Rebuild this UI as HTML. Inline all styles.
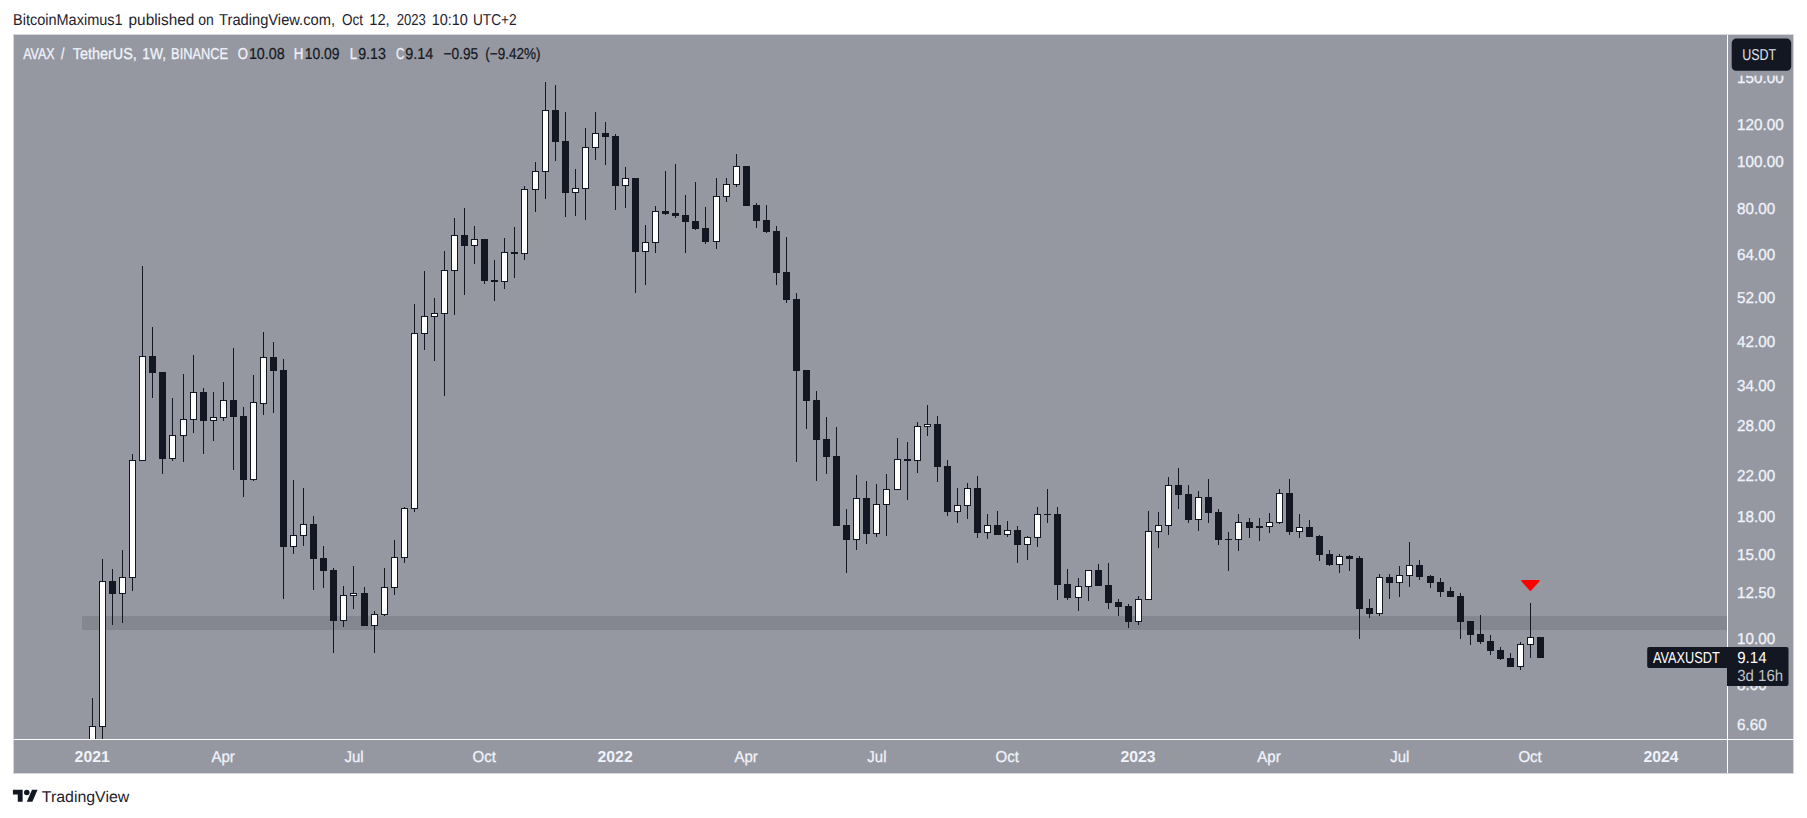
<!DOCTYPE html>
<html lang="en"><head><meta charset="utf-8"><title>AVAX / TetherUS chart</title>
<style>html,body{margin:0;padding:0;background:#fff}body{width:1807px;height:818px;overflow:hidden}svg{display:block}text{font-family:'Liberation Sans',sans-serif;white-space:pre;text-rendering:geometricPrecision}</style></head><body>
<svg width="1807" height="818" viewBox="0 0 1807 818">
<rect x="0" y="0" width="1807" height="818" fill="#fff"/>
<g shape-rendering="crispEdges">
<rect x="13" y="34" width="1781" height="740" fill="#d5d7de"/>
<rect x="14" y="35" width="1779" height="738" fill="#9598a1"/>
<rect x="82" y="616" width="1645" height="14" fill="#84878f"/>
<clipPath id="pane"><rect x="14" y="35" width="1713" height="704"/></clipPath>
<g clip-path="url(#pane)">
<rect x="92" y="698" width="1" height="47" fill="#131722"/>
<rect x="89" y="726" width="7" height="19" fill="#131722"/>
<rect x="90" y="727" width="5" height="17" fill="#fff"/>
<rect x="102" y="559" width="1" height="186" fill="#131722"/>
<rect x="99" y="581" width="7" height="146" fill="#131722"/>
<rect x="100" y="582" width="5" height="144" fill="#fff"/>
<rect x="112" y="569" width="1" height="56" fill="#131722"/>
<rect x="109" y="581" width="7" height="13" fill="#131722"/>
<rect x="122" y="550" width="1" height="73" fill="#131722"/>
<rect x="119" y="577" width="7" height="17" fill="#131722"/>
<rect x="120" y="578" width="5" height="15" fill="#fff"/>
<rect x="132" y="454" width="1" height="137" fill="#131722"/>
<rect x="129" y="460" width="7" height="118" fill="#131722"/>
<rect x="130" y="461" width="5" height="116" fill="#fff"/>
<rect x="142" y="266" width="1" height="195" fill="#131722"/>
<rect x="139" y="356" width="7" height="105" fill="#131722"/>
<rect x="140" y="357" width="5" height="103" fill="#fff"/>
<rect x="152" y="327" width="1" height="71" fill="#131722"/>
<rect x="149" y="356" width="7" height="17" fill="#131722"/>
<rect x="162" y="372" width="1" height="102" fill="#131722"/>
<rect x="159" y="372" width="7" height="87" fill="#131722"/>
<rect x="172" y="398" width="1" height="63" fill="#131722"/>
<rect x="169" y="435" width="7" height="24" fill="#131722"/>
<rect x="170" y="436" width="5" height="22" fill="#fff"/>
<rect x="183" y="374" width="1" height="88" fill="#131722"/>
<rect x="180" y="419" width="7" height="17" fill="#131722"/>
<rect x="181" y="420" width="5" height="15" fill="#fff"/>
<rect x="193" y="355" width="1" height="78" fill="#131722"/>
<rect x="190" y="392" width="7" height="28" fill="#131722"/>
<rect x="191" y="393" width="5" height="26" fill="#fff"/>
<rect x="203" y="388" width="1" height="66" fill="#131722"/>
<rect x="200" y="392" width="7" height="29" fill="#131722"/>
<rect x="213" y="392" width="1" height="49" fill="#131722"/>
<rect x="210" y="417" width="7" height="4" fill="#131722"/>
<rect x="211" y="418" width="5" height="2" fill="#fff"/>
<rect x="223" y="382" width="1" height="39" fill="#131722"/>
<rect x="220" y="400" width="7" height="18" fill="#131722"/>
<rect x="221" y="401" width="5" height="16" fill="#fff"/>
<rect x="233" y="348" width="1" height="122" fill="#131722"/>
<rect x="230" y="400" width="7" height="17" fill="#131722"/>
<rect x="243" y="407" width="1" height="90" fill="#131722"/>
<rect x="240" y="416" width="7" height="64" fill="#131722"/>
<rect x="253" y="375" width="1" height="106" fill="#131722"/>
<rect x="250" y="402" width="7" height="78" fill="#131722"/>
<rect x="251" y="403" width="5" height="76" fill="#fff"/>
<rect x="263" y="332" width="1" height="83" fill="#131722"/>
<rect x="260" y="357" width="7" height="47" fill="#131722"/>
<rect x="261" y="358" width="5" height="45" fill="#fff"/>
<rect x="273" y="342" width="1" height="71" fill="#131722"/>
<rect x="270" y="357" width="7" height="14" fill="#131722"/>
<rect x="283" y="359" width="1" height="240" fill="#131722"/>
<rect x="280" y="370" width="7" height="177" fill="#131722"/>
<rect x="293" y="480" width="1" height="74" fill="#131722"/>
<rect x="290" y="535" width="7" height="12" fill="#131722"/>
<rect x="291" y="536" width="5" height="10" fill="#fff"/>
<rect x="303" y="488" width="1" height="58" fill="#131722"/>
<rect x="300" y="524" width="7" height="12" fill="#131722"/>
<rect x="301" y="525" width="5" height="10" fill="#fff"/>
<rect x="313" y="516" width="1" height="74" fill="#131722"/>
<rect x="310" y="524" width="7" height="35" fill="#131722"/>
<rect x="323" y="546" width="1" height="42" fill="#131722"/>
<rect x="320" y="558" width="7" height="13" fill="#131722"/>
<rect x="333" y="568" width="1" height="85" fill="#131722"/>
<rect x="330" y="570" width="7" height="51" fill="#131722"/>
<rect x="343" y="586" width="1" height="41" fill="#131722"/>
<rect x="340" y="595" width="7" height="26" fill="#131722"/>
<rect x="341" y="596" width="5" height="24" fill="#fff"/>
<rect x="353" y="566" width="1" height="43" fill="#131722"/>
<rect x="350" y="593" width="7" height="3" fill="#131722"/>
<rect x="351" y="594" width="5" height="1" fill="#fff"/>
<rect x="364" y="587" width="1" height="39" fill="#131722"/>
<rect x="361" y="593" width="7" height="33" fill="#131722"/>
<rect x="374" y="611" width="1" height="42" fill="#131722"/>
<rect x="371" y="614" width="7" height="12" fill="#131722"/>
<rect x="372" y="615" width="5" height="10" fill="#fff"/>
<rect x="384" y="568" width="1" height="48" fill="#131722"/>
<rect x="381" y="587" width="7" height="28" fill="#131722"/>
<rect x="382" y="588" width="5" height="26" fill="#fff"/>
<rect x="394" y="540" width="1" height="55" fill="#131722"/>
<rect x="391" y="557" width="7" height="31" fill="#131722"/>
<rect x="392" y="558" width="5" height="29" fill="#fff"/>
<rect x="404" y="507" width="1" height="56" fill="#131722"/>
<rect x="401" y="508" width="7" height="50" fill="#131722"/>
<rect x="402" y="509" width="5" height="48" fill="#fff"/>
<rect x="414" y="304" width="1" height="208" fill="#131722"/>
<rect x="411" y="333" width="7" height="176" fill="#131722"/>
<rect x="412" y="334" width="5" height="174" fill="#fff"/>
<rect x="424" y="271" width="1" height="79" fill="#131722"/>
<rect x="421" y="316" width="7" height="18" fill="#131722"/>
<rect x="422" y="317" width="5" height="16" fill="#fff"/>
<rect x="434" y="298" width="1" height="63" fill="#131722"/>
<rect x="431" y="313" width="7" height="4" fill="#131722"/>
<rect x="432" y="314" width="5" height="2" fill="#fff"/>
<rect x="444" y="251" width="1" height="145" fill="#131722"/>
<rect x="441" y="270" width="7" height="44" fill="#131722"/>
<rect x="442" y="271" width="5" height="42" fill="#fff"/>
<rect x="454" y="218" width="1" height="97" fill="#131722"/>
<rect x="451" y="235" width="7" height="36" fill="#131722"/>
<rect x="452" y="236" width="5" height="34" fill="#fff"/>
<rect x="464" y="208" width="1" height="87" fill="#131722"/>
<rect x="461" y="235" width="7" height="11" fill="#131722"/>
<rect x="474" y="226" width="1" height="38" fill="#131722"/>
<rect x="471" y="239" width="7" height="7" fill="#131722"/>
<rect x="472" y="240" width="5" height="5" fill="#fff"/>
<rect x="484" y="239" width="1" height="45" fill="#131722"/>
<rect x="481" y="239" width="7" height="42" fill="#131722"/>
<rect x="494" y="260" width="1" height="41" fill="#131722"/>
<rect x="491" y="280" width="7" height="2" fill="#131722"/>
<rect x="504" y="238" width="1" height="51" fill="#131722"/>
<rect x="501" y="252" width="7" height="30" fill="#131722"/>
<rect x="502" y="253" width="5" height="28" fill="#fff"/>
<rect x="514" y="227" width="1" height="51" fill="#131722"/>
<rect x="511" y="252" width="7" height="2" fill="#131722"/>
<rect x="524" y="186" width="1" height="74" fill="#131722"/>
<rect x="521" y="189" width="7" height="65" fill="#131722"/>
<rect x="522" y="190" width="5" height="63" fill="#fff"/>
<rect x="535" y="162" width="1" height="50" fill="#131722"/>
<rect x="532" y="171" width="7" height="19" fill="#131722"/>
<rect x="533" y="172" width="5" height="17" fill="#fff"/>
<rect x="545" y="82" width="1" height="117" fill="#131722"/>
<rect x="542" y="110" width="7" height="62" fill="#131722"/>
<rect x="543" y="111" width="5" height="60" fill="#fff"/>
<rect x="555" y="85" width="1" height="76" fill="#131722"/>
<rect x="552" y="110" width="7" height="32" fill="#131722"/>
<rect x="565" y="112" width="1" height="105" fill="#131722"/>
<rect x="562" y="141" width="7" height="52" fill="#131722"/>
<rect x="575" y="169" width="1" height="47" fill="#131722"/>
<rect x="572" y="188" width="7" height="5" fill="#131722"/>
<rect x="573" y="189" width="5" height="3" fill="#fff"/>
<rect x="585" y="128" width="1" height="92" fill="#131722"/>
<rect x="582" y="147" width="7" height="42" fill="#131722"/>
<rect x="583" y="148" width="5" height="40" fill="#fff"/>
<rect x="595" y="112" width="1" height="48" fill="#131722"/>
<rect x="592" y="133" width="7" height="15" fill="#131722"/>
<rect x="593" y="134" width="5" height="13" fill="#fff"/>
<rect x="605" y="122" width="1" height="43" fill="#131722"/>
<rect x="602" y="133" width="7" height="4" fill="#131722"/>
<rect x="615" y="134" width="1" height="76" fill="#131722"/>
<rect x="612" y="136" width="7" height="50" fill="#131722"/>
<rect x="625" y="167" width="1" height="41" fill="#131722"/>
<rect x="622" y="178" width="7" height="8" fill="#131722"/>
<rect x="623" y="179" width="5" height="6" fill="#fff"/>
<rect x="635" y="178" width="1" height="115" fill="#131722"/>
<rect x="632" y="178" width="7" height="74" fill="#131722"/>
<rect x="645" y="225" width="1" height="60" fill="#131722"/>
<rect x="642" y="242" width="7" height="10" fill="#131722"/>
<rect x="643" y="243" width="5" height="8" fill="#fff"/>
<rect x="655" y="206" width="1" height="47" fill="#131722"/>
<rect x="652" y="211" width="7" height="32" fill="#131722"/>
<rect x="653" y="212" width="5" height="30" fill="#fff"/>
<rect x="665" y="171" width="1" height="44" fill="#131722"/>
<rect x="662" y="211" width="7" height="3" fill="#131722"/>
<rect x="675" y="164" width="1" height="54" fill="#131722"/>
<rect x="672" y="213" width="7" height="3" fill="#131722"/>
<rect x="685" y="195" width="1" height="58" fill="#131722"/>
<rect x="682" y="215" width="7" height="7" fill="#131722"/>
<rect x="695" y="182" width="1" height="48" fill="#131722"/>
<rect x="692" y="221" width="7" height="8" fill="#131722"/>
<rect x="705" y="207" width="1" height="37" fill="#131722"/>
<rect x="702" y="228" width="7" height="14" fill="#131722"/>
<rect x="716" y="178" width="1" height="71" fill="#131722"/>
<rect x="713" y="196" width="7" height="46" fill="#131722"/>
<rect x="714" y="197" width="5" height="44" fill="#fff"/>
<rect x="726" y="178" width="1" height="24" fill="#131722"/>
<rect x="723" y="184" width="7" height="13" fill="#131722"/>
<rect x="724" y="185" width="5" height="11" fill="#fff"/>
<rect x="736" y="154" width="1" height="33" fill="#131722"/>
<rect x="733" y="166" width="7" height="19" fill="#131722"/>
<rect x="734" y="167" width="5" height="17" fill="#fff"/>
<rect x="746" y="166" width="1" height="40" fill="#131722"/>
<rect x="743" y="166" width="7" height="40" fill="#131722"/>
<rect x="756" y="203" width="1" height="25" fill="#131722"/>
<rect x="753" y="205" width="7" height="16" fill="#131722"/>
<rect x="766" y="205" width="1" height="28" fill="#131722"/>
<rect x="763" y="220" width="7" height="12" fill="#131722"/>
<rect x="776" y="226" width="1" height="59" fill="#131722"/>
<rect x="773" y="231" width="7" height="42" fill="#131722"/>
<rect x="786" y="237" width="1" height="66" fill="#131722"/>
<rect x="783" y="272" width="7" height="28" fill="#131722"/>
<rect x="796" y="293" width="1" height="169" fill="#131722"/>
<rect x="793" y="299" width="7" height="72" fill="#131722"/>
<rect x="806" y="370" width="1" height="59" fill="#131722"/>
<rect x="803" y="370" width="7" height="31" fill="#131722"/>
<rect x="816" y="391" width="1" height="90" fill="#131722"/>
<rect x="813" y="400" width="7" height="40" fill="#131722"/>
<rect x="826" y="417" width="1" height="57" fill="#131722"/>
<rect x="823" y="439" width="7" height="18" fill="#131722"/>
<rect x="836" y="427" width="1" height="99" fill="#131722"/>
<rect x="833" y="456" width="7" height="70" fill="#131722"/>
<rect x="846" y="509" width="1" height="64" fill="#131722"/>
<rect x="843" y="525" width="7" height="15" fill="#131722"/>
<rect x="856" y="475" width="1" height="75" fill="#131722"/>
<rect x="853" y="498" width="7" height="42" fill="#131722"/>
<rect x="854" y="499" width="5" height="40" fill="#fff"/>
<rect x="866" y="481" width="1" height="63" fill="#131722"/>
<rect x="863" y="498" width="7" height="36" fill="#131722"/>
<rect x="876" y="484" width="1" height="53" fill="#131722"/>
<rect x="873" y="504" width="7" height="30" fill="#131722"/>
<rect x="874" y="505" width="5" height="28" fill="#fff"/>
<rect x="886" y="474" width="1" height="62" fill="#131722"/>
<rect x="883" y="489" width="7" height="16" fill="#131722"/>
<rect x="884" y="490" width="5" height="14" fill="#fff"/>
<rect x="897" y="438" width="1" height="52" fill="#131722"/>
<rect x="894" y="459" width="7" height="31" fill="#131722"/>
<rect x="895" y="460" width="5" height="29" fill="#fff"/>
<rect x="907" y="442" width="1" height="58" fill="#131722"/>
<rect x="904" y="459" width="7" height="2" fill="#131722"/>
<rect x="917" y="422" width="1" height="51" fill="#131722"/>
<rect x="914" y="426" width="7" height="35" fill="#131722"/>
<rect x="915" y="427" width="5" height="33" fill="#fff"/>
<rect x="927" y="405" width="1" height="31" fill="#131722"/>
<rect x="924" y="424" width="7" height="3" fill="#131722"/>
<rect x="925" y="425" width="5" height="1" fill="#fff"/>
<rect x="937" y="416" width="1" height="66" fill="#131722"/>
<rect x="934" y="424" width="7" height="43" fill="#131722"/>
<rect x="947" y="460" width="1" height="56" fill="#131722"/>
<rect x="944" y="466" width="7" height="46" fill="#131722"/>
<rect x="957" y="488" width="1" height="35" fill="#131722"/>
<rect x="954" y="505" width="7" height="7" fill="#131722"/>
<rect x="955" y="506" width="5" height="5" fill="#fff"/>
<rect x="967" y="483" width="1" height="36" fill="#131722"/>
<rect x="964" y="488" width="7" height="18" fill="#131722"/>
<rect x="965" y="489" width="5" height="16" fill="#fff"/>
<rect x="977" y="476" width="1" height="62" fill="#131722"/>
<rect x="974" y="488" width="7" height="45" fill="#131722"/>
<rect x="987" y="514" width="1" height="25" fill="#131722"/>
<rect x="984" y="525" width="7" height="8" fill="#131722"/>
<rect x="985" y="526" width="5" height="6" fill="#fff"/>
<rect x="997" y="511" width="1" height="24" fill="#131722"/>
<rect x="994" y="525" width="7" height="10" fill="#131722"/>
<rect x="1007" y="521" width="1" height="16" fill="#131722"/>
<rect x="1004" y="530" width="7" height="5" fill="#131722"/>
<rect x="1005" y="531" width="5" height="3" fill="#fff"/>
<rect x="1017" y="526" width="1" height="37" fill="#131722"/>
<rect x="1014" y="530" width="7" height="15" fill="#131722"/>
<rect x="1027" y="536" width="1" height="24" fill="#131722"/>
<rect x="1024" y="537" width="7" height="8" fill="#131722"/>
<rect x="1025" y="538" width="5" height="6" fill="#fff"/>
<rect x="1037" y="507" width="1" height="40" fill="#131722"/>
<rect x="1034" y="514" width="7" height="24" fill="#131722"/>
<rect x="1035" y="515" width="5" height="22" fill="#fff"/>
<rect x="1047" y="489" width="1" height="34" fill="#131722"/>
<rect x="1044" y="514" width="7" height="1" fill="#131722"/>
<rect x="1057" y="507" width="1" height="93" fill="#131722"/>
<rect x="1054" y="514" width="7" height="71" fill="#131722"/>
<rect x="1067" y="569" width="1" height="31" fill="#131722"/>
<rect x="1064" y="584" width="7" height="14" fill="#131722"/>
<rect x="1078" y="578" width="1" height="33" fill="#131722"/>
<rect x="1075" y="586" width="7" height="12" fill="#131722"/>
<rect x="1076" y="587" width="5" height="10" fill="#fff"/>
<rect x="1088" y="570" width="1" height="31" fill="#131722"/>
<rect x="1085" y="570" width="7" height="17" fill="#131722"/>
<rect x="1086" y="571" width="5" height="15" fill="#fff"/>
<rect x="1098" y="564" width="1" height="22" fill="#131722"/>
<rect x="1095" y="570" width="7" height="16" fill="#131722"/>
<rect x="1108" y="563" width="1" height="46" fill="#131722"/>
<rect x="1105" y="585" width="7" height="18" fill="#131722"/>
<rect x="1118" y="599" width="1" height="17" fill="#131722"/>
<rect x="1115" y="602" width="7" height="5" fill="#131722"/>
<rect x="1128" y="604" width="1" height="24" fill="#131722"/>
<rect x="1125" y="606" width="7" height="16" fill="#131722"/>
<rect x="1138" y="596" width="1" height="29" fill="#131722"/>
<rect x="1135" y="599" width="7" height="23" fill="#131722"/>
<rect x="1136" y="600" width="5" height="21" fill="#fff"/>
<rect x="1148" y="511" width="1" height="89" fill="#131722"/>
<rect x="1145" y="531" width="7" height="69" fill="#131722"/>
<rect x="1146" y="532" width="5" height="67" fill="#fff"/>
<rect x="1158" y="512" width="1" height="36" fill="#131722"/>
<rect x="1155" y="525" width="7" height="7" fill="#131722"/>
<rect x="1156" y="526" width="5" height="5" fill="#fff"/>
<rect x="1168" y="477" width="1" height="58" fill="#131722"/>
<rect x="1165" y="485" width="7" height="41" fill="#131722"/>
<rect x="1166" y="486" width="5" height="39" fill="#fff"/>
<rect x="1178" y="468" width="1" height="41" fill="#131722"/>
<rect x="1175" y="485" width="7" height="10" fill="#131722"/>
<rect x="1188" y="485" width="1" height="38" fill="#131722"/>
<rect x="1185" y="494" width="7" height="26" fill="#131722"/>
<rect x="1198" y="491" width="1" height="40" fill="#131722"/>
<rect x="1195" y="497" width="7" height="23" fill="#131722"/>
<rect x="1196" y="498" width="5" height="21" fill="#fff"/>
<rect x="1208" y="479" width="1" height="44" fill="#131722"/>
<rect x="1205" y="497" width="7" height="16" fill="#131722"/>
<rect x="1218" y="509" width="1" height="36" fill="#131722"/>
<rect x="1215" y="512" width="7" height="28" fill="#131722"/>
<rect x="1228" y="532" width="1" height="39" fill="#131722"/>
<rect x="1225" y="539" width="7" height="1" fill="#131722"/>
<rect x="1238" y="514" width="1" height="37" fill="#131722"/>
<rect x="1235" y="522" width="7" height="18" fill="#131722"/>
<rect x="1236" y="523" width="5" height="16" fill="#fff"/>
<rect x="1249" y="518" width="1" height="20" fill="#131722"/>
<rect x="1246" y="522" width="7" height="6" fill="#131722"/>
<rect x="1259" y="518" width="1" height="23" fill="#131722"/>
<rect x="1256" y="526" width="7" height="2" fill="#131722"/>
<rect x="1269" y="513" width="1" height="20" fill="#131722"/>
<rect x="1266" y="522" width="7" height="5" fill="#131722"/>
<rect x="1267" y="523" width="5" height="3" fill="#fff"/>
<rect x="1279" y="489" width="1" height="35" fill="#131722"/>
<rect x="1276" y="493" width="7" height="30" fill="#131722"/>
<rect x="1277" y="494" width="5" height="28" fill="#fff"/>
<rect x="1289" y="479" width="1" height="56" fill="#131722"/>
<rect x="1286" y="493" width="7" height="39" fill="#131722"/>
<rect x="1299" y="514" width="1" height="24" fill="#131722"/>
<rect x="1296" y="527" width="7" height="5" fill="#131722"/>
<rect x="1297" y="528" width="5" height="3" fill="#fff"/>
<rect x="1309" y="520" width="1" height="17" fill="#131722"/>
<rect x="1306" y="527" width="7" height="10" fill="#131722"/>
<rect x="1319" y="535" width="1" height="26" fill="#131722"/>
<rect x="1316" y="536" width="7" height="19" fill="#131722"/>
<rect x="1329" y="550" width="1" height="16" fill="#131722"/>
<rect x="1326" y="554" width="7" height="11" fill="#131722"/>
<rect x="1339" y="554" width="1" height="19" fill="#131722"/>
<rect x="1336" y="556" width="7" height="9" fill="#131722"/>
<rect x="1337" y="557" width="5" height="7" fill="#fff"/>
<rect x="1349" y="555" width="1" height="16" fill="#131722"/>
<rect x="1346" y="556" width="7" height="3" fill="#131722"/>
<rect x="1359" y="556" width="1" height="83" fill="#131722"/>
<rect x="1356" y="558" width="7" height="51" fill="#131722"/>
<rect x="1369" y="599" width="1" height="19" fill="#131722"/>
<rect x="1366" y="608" width="7" height="6" fill="#131722"/>
<rect x="1379" y="574" width="1" height="42" fill="#131722"/>
<rect x="1376" y="577" width="7" height="37" fill="#131722"/>
<rect x="1377" y="578" width="5" height="35" fill="#fff"/>
<rect x="1389" y="574" width="1" height="25" fill="#131722"/>
<rect x="1386" y="577" width="7" height="6" fill="#131722"/>
<rect x="1399" y="566" width="1" height="31" fill="#131722"/>
<rect x="1396" y="575" width="7" height="8" fill="#131722"/>
<rect x="1397" y="576" width="5" height="6" fill="#fff"/>
<rect x="1409" y="542" width="1" height="45" fill="#131722"/>
<rect x="1406" y="565" width="7" height="11" fill="#131722"/>
<rect x="1407" y="566" width="5" height="9" fill="#fff"/>
<rect x="1419" y="560" width="1" height="20" fill="#131722"/>
<rect x="1416" y="565" width="7" height="12" fill="#131722"/>
<rect x="1430" y="575" width="1" height="13" fill="#131722"/>
<rect x="1427" y="576" width="7" height="7" fill="#131722"/>
<rect x="1440" y="578" width="1" height="19" fill="#131722"/>
<rect x="1437" y="582" width="7" height="10" fill="#131722"/>
<rect x="1450" y="587" width="1" height="10" fill="#131722"/>
<rect x="1447" y="591" width="7" height="6" fill="#131722"/>
<rect x="1460" y="593" width="1" height="46" fill="#131722"/>
<rect x="1457" y="596" width="7" height="26" fill="#131722"/>
<rect x="1470" y="621" width="1" height="24" fill="#131722"/>
<rect x="1467" y="621" width="7" height="14" fill="#131722"/>
<rect x="1480" y="615" width="1" height="29" fill="#131722"/>
<rect x="1477" y="634" width="7" height="8" fill="#131722"/>
<rect x="1490" y="635" width="1" height="20" fill="#131722"/>
<rect x="1487" y="641" width="7" height="10" fill="#131722"/>
<rect x="1500" y="647" width="1" height="13" fill="#131722"/>
<rect x="1497" y="650" width="7" height="9" fill="#131722"/>
<rect x="1510" y="653" width="1" height="14" fill="#131722"/>
<rect x="1507" y="658" width="7" height="9" fill="#131722"/>
<rect x="1520" y="642" width="1" height="28" fill="#131722"/>
<rect x="1517" y="644" width="7" height="23" fill="#131722"/>
<rect x="1518" y="645" width="5" height="21" fill="#fff"/>
<rect x="1530" y="603" width="1" height="55" fill="#131722"/>
<rect x="1527" y="637" width="7" height="8" fill="#131722"/>
<rect x="1528" y="638" width="5" height="6" fill="#fff"/>
<rect x="1540" y="637" width="1" height="21" fill="#131722"/>
<rect x="1537" y="637" width="7" height="21" fill="#131722"/>
</g>
<rect x="1727" y="35" width="1" height="738" fill="#fff"/>
<rect x="14" y="739" width="1779" height="1" fill="#fff"/>
</g>
<text transform="translate(12.98,25) scale(0.9181,1)" font-size="15.8" fill="#1e222d">BitcoinMaximus1</text>
<text transform="translate(128.53,25) scale(0.9735,1)" font-size="15.8" fill="#1e222d">published</text>
<text transform="translate(198.20,25) scale(0.8877,1)" font-size="15.8" fill="#1e222d">on</text>
<text transform="translate(219.10,25) scale(0.9295,1)" font-size="15.8" fill="#1e222d">TradingView.com,</text>
<text transform="translate(342.00,25) scale(0.8537,1)" font-size="15.8" fill="#1e222d">Oct</text>
<text transform="translate(369.27,25) scale(0.9299,1)" font-size="15.8" fill="#1e222d">12,</text>
<text transform="translate(396.70,25) scale(0.8287,1)" font-size="15.8" fill="#1e222d">2023</text>
<text transform="translate(431.68,25) scale(0.9162,1)" font-size="15.8" fill="#1e222d">10:10</text>
<text transform="translate(472.94,25) scale(0.8646,1)" font-size="15.8" fill="#1e222d">UTC+2</text>
<text transform="translate(23.20,59) scale(0.7873,1)" font-size="15.8" fill="#f0f3fa" stroke="#f0f3fa" stroke-width="0.3">AVAX</text>
<text transform="translate(61.10,59) scale(0.7800,1)" font-size="15.8" fill="#f0f3fa" stroke="#f0f3fa" stroke-width="0.3">/</text>
<text transform="translate(72.70,59) scale(0.9122,1)" font-size="15.8" fill="#f0f3fa" stroke="#f0f3fa" stroke-width="0.3">TetherUS,</text>
<text transform="translate(142.33,59) scale(0.8742,1)" font-size="15.8" fill="#f0f3fa" stroke="#f0f3fa" stroke-width="0.3">1W,</text>
<text transform="translate(171.09,59) scale(0.8124,1)" font-size="15.8" fill="#f0f3fa" stroke="#f0f3fa" stroke-width="0.3">BINANCE</text>
<text transform="translate(237.80,59) scale(0.8333,1)" font-size="15.8" fill="#f0f3fa" stroke="#f0f3fa" stroke-width="0.3">O</text>
<text transform="translate(248.89,59) scale(0.9085,1)" font-size="15.8" fill="#131722" stroke="#131722" stroke-width="0.2">10.08</text>
<text transform="translate(293.85,59) scale(0.8500,1)" font-size="15.8" fill="#f0f3fa" stroke="#f0f3fa" stroke-width="0.3">H</text>
<text transform="translate(304.72,59) scale(0.8801,1)" font-size="15.8" fill="#131722" stroke="#131722" stroke-width="0.2">10.09</text>
<text transform="translate(349.66,59) scale(0.8375,1)" font-size="15.8" fill="#f0f3fa" stroke="#f0f3fa" stroke-width="0.3">L</text>
<text transform="translate(358.20,59) scale(0.9012,1)" font-size="15.8" fill="#131722" stroke="#131722" stroke-width="0.2">9.13</text>
<text transform="translate(395.90,59) scale(0.7364,1)" font-size="15.8" fill="#f0f3fa" stroke="#f0f3fa" stroke-width="0.3">C</text>
<text transform="translate(405.20,59) scale(0.9109,1)" font-size="15.8" fill="#131722" stroke="#131722" stroke-width="0.2">9.14</text>
<text transform="translate(443.50,59) scale(0.8660,1)" font-size="15.8" fill="#131722" stroke="#131722" stroke-width="0.2">−0.95</text>
<text transform="translate(485.30,59) scale(0.8557,1)" font-size="15.8" fill="#131722" stroke="#131722" stroke-width="0.2">(−9.42%)</text>
<text transform="translate(1737.00,83) scale(0.9650,1)" font-size="15.8" fill="#f0f3fa" stroke="#f0f3fa" stroke-width="0.3">150.00</text>
<text transform="translate(1737.00,130) scale(0.9650,1)" font-size="15.8" fill="#f0f3fa" stroke="#f0f3fa" stroke-width="0.3">120.00</text>
<text transform="translate(1737.00,167) scale(0.9650,1)" font-size="15.8" fill="#f0f3fa" stroke="#f0f3fa" stroke-width="0.3">100.00</text>
<text transform="translate(1737.00,214) scale(0.9650,1)" font-size="15.8" fill="#f0f3fa" stroke="#f0f3fa" stroke-width="0.3">80.00</text>
<text transform="translate(1737.00,260) scale(0.9650,1)" font-size="15.8" fill="#f0f3fa" stroke="#f0f3fa" stroke-width="0.3">64.00</text>
<text transform="translate(1737.00,303) scale(0.9650,1)" font-size="15.8" fill="#f0f3fa" stroke="#f0f3fa" stroke-width="0.3">52.00</text>
<text transform="translate(1737.00,347) scale(0.9650,1)" font-size="15.8" fill="#f0f3fa" stroke="#f0f3fa" stroke-width="0.3">42.00</text>
<text transform="translate(1737.00,391) scale(0.9650,1)" font-size="15.8" fill="#f0f3fa" stroke="#f0f3fa" stroke-width="0.3">34.00</text>
<text transform="translate(1737.00,431) scale(0.9650,1)" font-size="15.8" fill="#f0f3fa" stroke="#f0f3fa" stroke-width="0.3">28.00</text>
<text transform="translate(1737.00,481) scale(0.9650,1)" font-size="15.8" fill="#f0f3fa" stroke="#f0f3fa" stroke-width="0.3">22.00</text>
<text transform="translate(1737.00,522) scale(0.9650,1)" font-size="15.8" fill="#f0f3fa" stroke="#f0f3fa" stroke-width="0.3">18.00</text>
<text transform="translate(1737.00,560) scale(0.9650,1)" font-size="15.8" fill="#f0f3fa" stroke="#f0f3fa" stroke-width="0.3">15.00</text>
<text transform="translate(1737.00,598) scale(0.9650,1)" font-size="15.8" fill="#f0f3fa" stroke="#f0f3fa" stroke-width="0.3">12.50</text>
<text transform="translate(1737.00,644) scale(0.9650,1)" font-size="15.8" fill="#f0f3fa" stroke="#f0f3fa" stroke-width="0.3">10.00</text>
<text transform="translate(1737.00,690) scale(0.9650,1)" font-size="15.8" fill="#f0f3fa" stroke="#f0f3fa" stroke-width="0.3">8.00</text>
<text transform="translate(1737.00,730) scale(0.9650,1)" font-size="15.8" fill="#f0f3fa" stroke="#f0f3fa" stroke-width="0.3">6.60</text>
<text transform="translate(74.62,762) scale(1.0000,1)" font-size="15.8" fill="#f0f3fa" font-weight="700">2021</text>
<text transform="translate(211.48,762) scale(0.9500,1)" font-size="15.8" fill="#f0f3fa" stroke="#f0f3fa" stroke-width="0.3">Apr</text>
<text transform="translate(344.41,762) scale(0.9500,1)" font-size="15.8" fill="#f0f3fa" stroke="#f0f3fa" stroke-width="0.3">Jul</text>
<text transform="translate(472.53,762) scale(0.9500,1)" font-size="15.8" fill="#f0f3fa" stroke="#f0f3fa" stroke-width="0.3">Oct</text>
<text transform="translate(597.55,762) scale(1.0000,1)" font-size="15.8" fill="#f0f3fa" font-weight="700">2022</text>
<text transform="translate(734.41,762) scale(0.9500,1)" font-size="15.8" fill="#f0f3fa" stroke="#f0f3fa" stroke-width="0.3">Apr</text>
<text transform="translate(867.34,762) scale(0.9500,1)" font-size="15.8" fill="#f0f3fa" stroke="#f0f3fa" stroke-width="0.3">Jul</text>
<text transform="translate(995.46,762) scale(0.9500,1)" font-size="15.8" fill="#f0f3fa" stroke="#f0f3fa" stroke-width="0.3">Oct</text>
<text transform="translate(1120.48,762) scale(1.0000,1)" font-size="15.8" fill="#f0f3fa" font-weight="700">2023</text>
<text transform="translate(1257.33,762) scale(0.9500,1)" font-size="15.8" fill="#f0f3fa" stroke="#f0f3fa" stroke-width="0.3">Apr</text>
<text transform="translate(1390.27,762) scale(0.9500,1)" font-size="15.8" fill="#f0f3fa" stroke="#f0f3fa" stroke-width="0.3">Jul</text>
<text transform="translate(1518.39,762) scale(0.9500,1)" font-size="15.8" fill="#f0f3fa" stroke="#f0f3fa" stroke-width="0.3">Oct</text>
<text transform="translate(1643.40,762) scale(1.0000,1)" font-size="15.8" fill="#f0f3fa" font-weight="700">2024</text>
<path d="M1522 580 H1539 Q1540.6 580 1539.6 581.2 L1531.2 590.6 Q1530.4 591.5 1529.6 590.6 L1521.4 581.2 Q1520.4 580 1522 580Z" fill="#ff0000"/>
<rect x="1728" y="35" width="65" height="40.6" fill="#9598a1"/>
<rect x="1731.7" y="38.6" width="59.5" height="32.2" rx="4.5" fill="#131722"/>
<path d="M1649.2 647 H1727 V668 H1649.2 Q1647.2 668 1647.2 666 V649 Q1647.2 647 1649.2 647Z" fill="#131722"/>
<path d="M1727 647 H1786.5 Q1788.5 647 1788.5 649 V684 Q1788.5 686 1786.5 686 H1727Z" fill="#131722"/>
<g transform="translate(12.9,787.2) scale(0.695,0.6667)" fill="#131722"><path d="M14 22H7V11H0V4h14v18zM28 22h-8l7.5-18h8L28 22z"/><circle cx="20" cy="8" r="4"/></g>
<text transform="translate(1742.21,60) scale(0.7886,1)" font-size="15.8" fill="#e0e3eb">USDT</text>
<text transform="translate(1653.00,663) scale(0.7955,1)" font-size="16" fill="#ffffff">AVAXUSDT</text>
<text transform="translate(1737.20,663) scale(0.9410,1)" font-size="16" fill="#ffffff">9.14</text>
<text transform="translate(1737.20,681) scale(0.9388,1)" font-size="16" fill="#c1c4cd">3d 16h</text>
<text transform="translate(41.80,802) scale(1.0191,1)" font-size="15.6" fill="#1e222d">TradingView</text>
</svg></body></html>
